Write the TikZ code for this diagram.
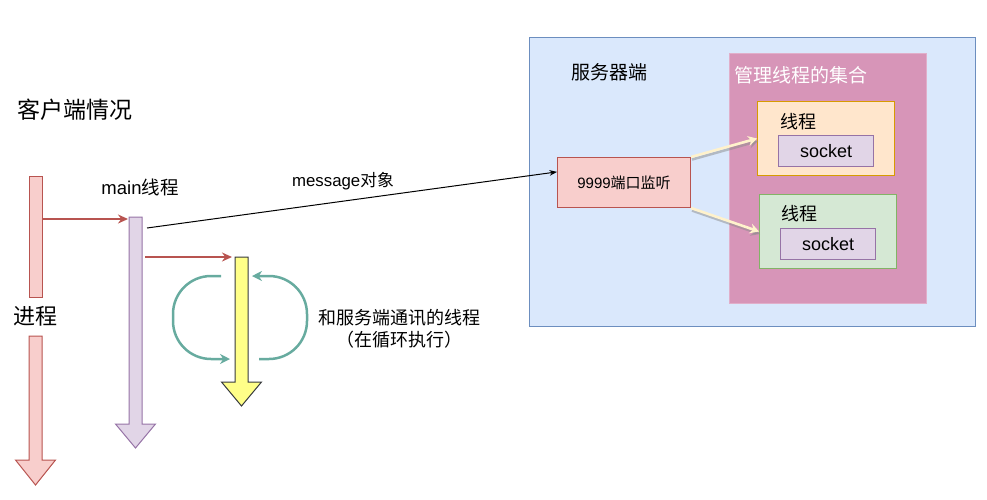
\documentclass[tikz,border=0pt]{standalone}
\usepackage{fontspec}
\setmainfont{Noto Sans CJK SC}
\newfontfamily\lat{Liberation Sans}
\usetikzlibrary{arrows.meta,positioning}

\definecolor{pinkfill}{HTML}{F8CECC}
\definecolor{pinkline}{HTML}{B85450}
\definecolor{lilacfill}{HTML}{E1D5E7}
\definecolor{lilacline}{HTML}{9673A6}
\definecolor{yellowfill}{HTML}{FFFF88}
\definecolor{yellowline}{HTML}{36393D}
\definecolor{tealline}{HTML}{67AB9F}
\definecolor{bluefill}{HTML}{DAE8FC}
\definecolor{blueline}{HTML}{6C8EBF}
\definecolor{setfill}{HTML}{D795B8}
\definecolor{orangefill}{HTML}{FFE6CC}
\definecolor{orangeline}{HTML}{D79B00}
\definecolor{greenfill}{HTML}{D5E8D4}
\definecolor{greenline}{HTML}{82B366}
\definecolor{creamline}{HTML}{FFF2CC}

\begin{document}
\begin{tikzpicture}[x=1pt,y=-1pt,>=Stealth,
  box/.style={draw,line width=1pt,inner sep=0pt,anchor=north west},
  txt/.style={inner sep=0pt,font=\fontsize{#1}{#1}\selectfont},
  redlink/.style={->,draw=pinkline,line width=2pt,
    >={Stealth[length=10pt,width=9pt]}},
  loop/.style={->,draw=tealline,line width=2.5pt,rounded corners=38,
    >={Stealth[length=10pt,width=10pt]}},
  spawn/.style={->,draw=creamline,line width=2.6pt,
    >={Stealth[length=9pt,width=10pt]},
    preaction={draw=black!45,opacity=.5,line width=2.6pt,
      transform canvas={shift={(1pt,-2.5pt)}}}}]
\useasboundingbox (0,0) rectangle (987,499);

% client side
\node[txt=23] (client) at (75,110) {客户端情况};

% process
\node[box,fill=pinkfill,draw=pinkline,minimum width=13,minimum height=121] (proc) at (29,176) {};
\node[txt=22] (procname) at (35.5,316) {进程};
\draw[fill=pinkfill,draw=pinkline,line width=1pt]
  (29,336) -- (42,336) -- (42,460) -- (55.5,460) -- (35.5,485) -- (15.5,460) -- (29,460) -- cycle;

% main thread
\node[txt=18.5] (mainname) at (140,187) {{\lat main}线程};
\draw[fill=lilacfill,draw=lilacline,line width=1pt]
  (129,217) -- (142,217) -- (142,424) -- (155.5,424) -- (135.5,448) -- (115.5,424) -- (129,424) -- cycle;

% communication thread
\draw[fill=yellowfill,draw=yellowline,line width=1pt]
  (235,257) -- (248,257) -- (248,382) -- (261.5,382) -- (241.5,406) -- (221.5,382) -- (235,382) -- cycle;
\node[txt=18,align=center] (commname) at (399,329) {和服务端通讯的线程\\[4pt]（在循环执行）};

\coordinate (procOut) at (43,219);
\coordinate (mainIn) at (128,219);
\coordinate (mainOut) at (145,257);
\coordinate (commIn) at (232,257);
\coordinate (msgStart) at (147,228);
\draw[redlink] (procOut) -- (mainIn);
\draw[redlink] (mainOut) -- (commIn);

% loop
\draw[loop] (221,276) -- (173,276) -- (173,359) -- (230,359);
\draw[loop] (259,359) -- (307,359) -- (307,276) -- (252,276);

% server side
\node[box,fill=bluefill,draw=blueline,minimum width=446,minimum height=289] (server) at (529,37) {};
\node[txt=19] (servername) at (609,72) {服务器端};
\node[box,fill=setfill,draw=setfill!75!white,minimum width=197,minimum height=250] (threadset) at (729,53) {};
\node[txt=19,text=white] (setname) at (801,75) {管理线程的集合};

\node[box,fill=pinkfill,draw=pinkline,minimum width=133,minimum height=50,
  font=\fontsize{15}{15}\selectfont] (listen) at (557,157) {{\lat 9999}端口监听};

\node[box,fill=orangefill,draw=orangeline,minimum width=137,minimum height=74] (threadA) at (757,101) {};
\node[txt=18] (threadAname) at (798,122) {线程};
\node[box,fill=lilacfill,draw=lilacline,minimum width=95,minimum height=31,
  font=\lat\fontsize{18}{18}\selectfont] (sockA) at (778,135) {socket};

\node[box,fill=greenfill,draw=greenline,minimum width=137,minimum height=74] (threadB) at (759,194) {};
\node[txt=18] (threadBname) at (799,214) {线程};
\node[box,fill=lilacfill,draw=lilacline,minimum width=95,minimum height=31,
  font=\lat\fontsize{18}{18}\selectfont] (sockB) at (780,228) {socket};

% message
\draw[->,line width=1pt] (msgStart) -- (listen.171);
\node[txt=16.8] (msgname) at (343,181) {{\lat message}对象};

% spawn threads
\draw[spawn] (listen.north east) -- (threadA.west);
\draw[spawn] (listen.south east) -- (threadB.west);
\end{tikzpicture}
\end{document}
